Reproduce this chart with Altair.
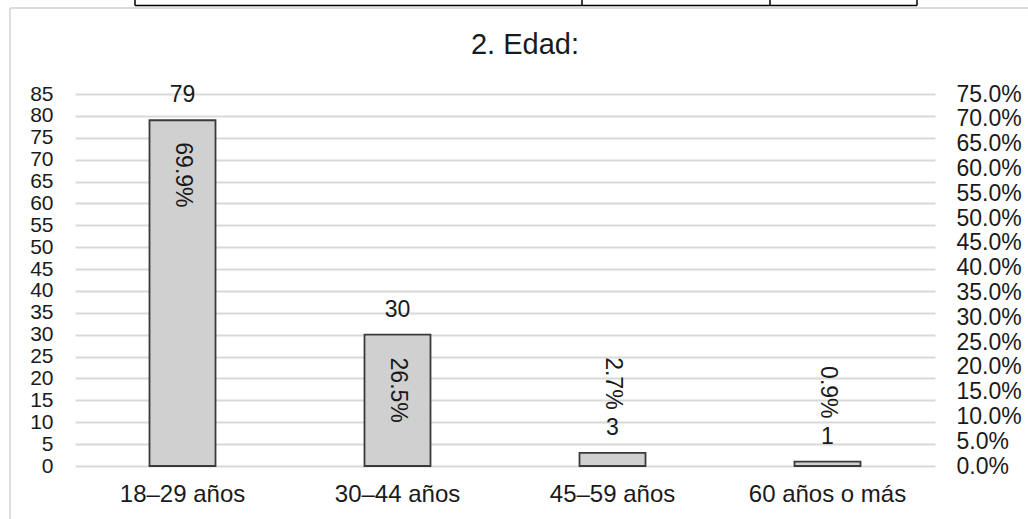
import altair as alt
import pandas as pd

# Survey question 2: age groups, respondents per group and share of total
categories = ["18–29 años", "30–44 años", "45–59 años", "60 años o más"]
counts = [79, 30, 3, 1]
shares = [0.699, 0.265, 0.027, 0.009]

count_ticks = list(range(0, 90, 5))
share_ticks = [v / 100 for v in range(0, 80, 5)]

df = pd.DataFrame({"edad": categories, "n": counts, "pct": shares})
one = pd.DataFrame({"k": [0]})

FONT = "Liberation Sans"
INK = "#1a1a1a"
GRID = "#d9d9d9"

x_enc = alt.X(
    "edad:N",
    sort=categories,
    scale=alt.Scale(paddingInner=0, paddingOuter=0),
    axis=alt.Axis(
        title=None, labelAngle=0, labelFontSize=24, labelPadding=16,
        ticks=False, domain=False, labelColor=INK, labelFont=FONT,
    ),
)

count_scale = alt.Scale(domain=[0, 85], nice=False, zero=True)
share_scale = alt.Scale(domain=[0, 0.75], nice=False, zero=True)

y_count = alt.Y(
    "n:Q",
    scale=count_scale,
    axis=alt.Axis(
        title=None, values=count_ticks, labelFontSize=21, labelPadding=22,
        ticks=False, domain=False, grid=True, gridColor=GRID, gridWidth=2,
        labelOverlap=False, labelColor=INK, labelFont=FONT,
    ),
)

y_share = alt.Y(
    "pct:Q",
    scale=share_scale,
    axis=alt.Axis(
        orient="right", title=None, values=share_ticks, format=".1%",
        labelFontSize=23, labelPadding=21, ticks=False, domain=False,
        grid=False, labelOverlap=False, labelColor=INK, labelFont=FONT,
    ),
)

base = alt.Chart(df)

bars = base.mark_bar(size=66, fill="#d0d0d0", stroke="#3a3a3a", strokeWidth=1.8).encode(
    x=x_enc, y=y_count
)

count_labels = base.mark_text(
    fontSize=23, dy=-25, baseline="middle", font=FONT, color=INK
).encode(x=x_enc, y=y_count, text=alt.Text("n:Q"))

# percentage labels: inside the top of tall bars, above the count label for short ones
share_inside = base.transform_filter("datum.pct >= 0.1").mark_text(
    angle=90, align="left", baseline="middle", dx=23, fontSize=23, font=FONT, color=INK
).encode(x=x_enc, y=y_share, text=alt.Text("pct:Q", format=".1%"))

share_outside = base.transform_filter("datum.pct < 0.1").mark_text(
    angle=90, align="right", baseline="middle", dx=-43, fontSize=23, font=FONT, color=INK
).encode(x=x_enc, y=y_share, text=alt.Text("pct:Q", format=".1%"))

# chart-area border and the edge of the table above it
frame = alt.Chart(one)
frame_top = frame.mark_rule(color="#dcdcdc", strokeWidth=2).encode(
    x=alt.value(-65), x2=alt.value(960), y=alt.value(-86)
)
frame_left = frame.mark_rule(color="#dcdcdc", strokeWidth=2).encode(
    x=alt.value(-65), y=alt.value(-86), y2=alt.value(430)
)
table_bottom = frame.mark_rule(color="#000000", strokeWidth=1.5).encode(
    x=alt.value(60), x2=alt.value(842), y=alt.value(-88.5)
)
table_cols = [
    frame.mark_rule(color="#000000", strokeWidth=1.5).encode(
        x=alt.value(px), y=alt.value(-94), y2=alt.value(-88.5)
    )
    for px in (60, 507, 695, 842)
]

left = alt.layer(frame_top, frame_left, table_bottom, *table_cols, bars, count_labels)
right = alt.layer(share_inside, share_outside)

chart = (
    alt.layer(left, right)
    .resolve_scale(y="independent")
    .properties(
        width=860,
        height=372,
        autosize=alt.AutoSizeParams(type="none"),
        padding={"left": 75, "top": 94, "right": 93, "bottom": 53},
        background="white",
        title=alt.Title(
            "2. Edad:", fontSize=29, font=FONT, fontWeight="normal", color=INK,
            anchor="middle", frame="group", baseline="alphabetic", offset=-84, dx=20,
        ),
    )
    .configure_view(stroke=None)
)

chart.save("out.html", embed_options={"renderer": "svg", "actions": False})
